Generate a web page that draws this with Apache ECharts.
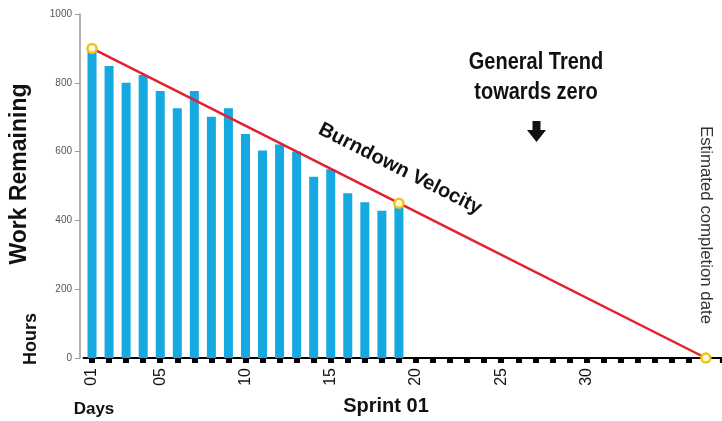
<!DOCTYPE html>
<html>
<head>
<meta charset="utf-8">
<script src="https://cdn.jsdelivr.net/npm/echarts@6/dist/echarts.min.js"></script>
<style>html,body{margin:0;padding:0;background:#fff}#c{width:722px;height:421px}</style>
</head>
<body>
<div id="c"></div>
<script>
// ---- data ----
const days = ['01','02','03','04','05','06','07','08','09','10','11','12','13','14','15','16','17','18','19','20','21','22','23','24','25','26','27','28','29','30','31','32','33','34','35','36','37'];
const workRemaining = [895, 849, 800, 823, 776, 726, 776, 701, 726, 651, 603, 621, 600, 527, 549, 479, 453, 428, 442];
const velocityDays = ['01', '19', '37'];
const velocityValues = [900, 450, 0];
const xTickLabels = ['01', '05', '10', '15', '20', '25', '30'];
const yTicks = [0, 200, 400, 600, 800, 1000];

const chart = echarts.init(document.getElementById('c'), null, {renderer: 'canvas'});
const bandW = 17.05;
const gridLeft = 83.5, gridTop = 14, gridH = 344;
const gridW = bandW * days.length;
const option = {
  animation: false,
  backgroundColor: '#fff',
  grid: {left: gridLeft, top: gridTop, width: gridW, height: gridH, containLabel: false},
  xAxis: {
    type: 'category',
    data: days,
    boundaryGap: true,
    axisLine: {show: true, lineStyle: {color: '#000', width: 2}},
    axisTick: {show: true, alignWithLabel: true, interval: 0, length: 5, lineStyle: {color: '#000', width: 6}},
    axisLabel: {
      rotate: 90,
      margin: 10,
      color: '#111',
      fontSize: 16,
      fontFamily: 'Liberation Sans, Arial, sans-serif',
      interval: function (index, value) { return xTickLabels.indexOf(value) >= 0; }
    },
    splitLine: {show: false}
  },
  yAxis: {
    type: 'value',
    min: yTicks[0],
    max: yTicks[yTicks.length - 1],
    interval: 200,
    offset: 3.5,
    axisLine: {show: true, lineStyle: {color: '#999', width: 1.5}},
    axisTick: {show: true, length: 5, lineStyle: {color: '#999', width: 1}},
    axisLabel: {color: '#555', fontSize: 10, margin: 8, fontFamily: 'Liberation Sans, Arial, sans-serif',
      formatter: function (v) { return String(v); }},
    splitLine: {show: false}
  },
  series: [
    {
      type: 'bar',
      data: workRemaining,
      barWidth: 9,
      itemStyle: {color: '#16a8e0'},
      z: 2
    },
    {
      type: 'line',
      data: velocityDays.map((d, i) => [d, velocityValues[i]]),
      lineStyle: {color: '#e51f2e', width: 2.5},
      symbol: 'circle',
      symbolSize: 9,
      showAllSymbol: true,
      itemStyle: {color: '#fffbe0', borderColor: '#f5c211', borderWidth: 2.5},
      z: 5
    }
  ],
  graphic: [
    // axis continuation to the right edge
    {type: 'line', shape: {x1: gridLeft + gridW - 1, y1: gridTop + gridH, x2: 722, y2: gridTop + gridH}, style: {stroke: '#000', lineWidth: 2}, z: 1},
    {type: 'rect', shape: {x: gridLeft + gridW + bandW / 2 - 3, y: gridTop + gridH, width: 6, height: 5}, style: {fill: '#000'}, z: 1},
    {type: 'text', x: 20, y: 174, rotation: Math.PI / 2,
      style: {text: 'Work Remaining', font: 'bold 23px "Liberation Sans", Arial, sans-serif', fill: '#111', align: 'center', verticalAlign: 'middle'}},
    {type: 'text', x: 31, y: 339, rotation: Math.PI / 2,
      style: {text: 'Hours', font: 'bold 18px "Liberation Sans", Arial, sans-serif', fill: '#111', align: 'center', verticalAlign: 'middle'}},
    {type: 'text', x: 94, y: 409,
      style: {text: 'Days', font: 'bold 17px "Liberation Sans", Arial, sans-serif', fill: '#111', align: 'center', verticalAlign: 'middle'}},
    {type: 'text', x: 386, y: 406,
      style: {text: 'Sprint 01', font: 'bold 20px "Liberation Sans", Arial, sans-serif', fill: '#111', align: 'center', verticalAlign: 'middle'}},
    {type: 'text', x: 400, y: 169, rotation: -0.468,
      style: {text: 'Burndown Velocity', font: 'bold 20px "Liberation Sans", Arial, sans-serif', fill: '#111', align: 'center', verticalAlign: 'middle'}},
    {type: 'text', x: 536, y: 63, scaleX: 0.87,
      style: {text: 'General Trend', font: 'bold 23px "Liberation Sans", Arial, sans-serif', fill: '#111', align: 'center', verticalAlign: 'middle'}},
    {type: 'text', x: 536, y: 93, scaleX: 0.87,
      style: {text: 'towards zero', font: 'bold 23px "Liberation Sans", Arial, sans-serif', fill: '#111', align: 'center', verticalAlign: 'middle'}},
    {type: 'polygon', shape: {points: [[532.5,121],[540.5,121],[540.5,130],[546,130],[536.5,142],[527,130],[532.5,130]]}, style: {fill: '#111'}},
    {type: 'text', x: 705, y: 225, rotation: -Math.PI / 2, scaleX: 1.05,
      style: {text: 'Estimated completion date', font: '16px "Liberation Sans", Arial, sans-serif', fill: '#333', align: 'center', verticalAlign: 'middle'}}
  ]
};
chart.setOption(option);
</script>
</body>
</html>
